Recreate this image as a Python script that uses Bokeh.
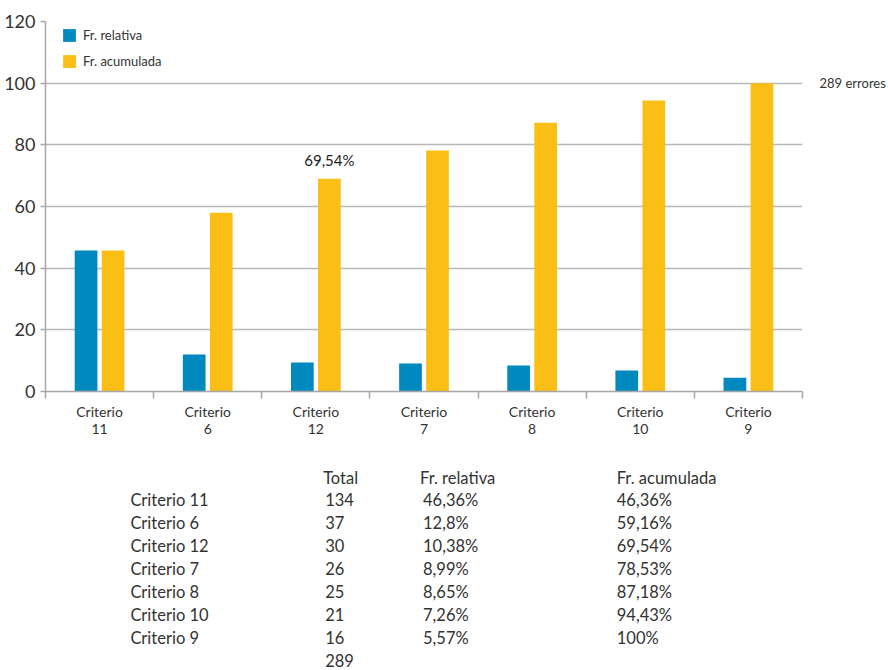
from bokeh.plotting import figure
from bokeh.models import (Range1d, FixedTicker, CustomJSTickFormatter, Label,
                          LinearAxis, ColumnDataSource)
from bokeh.layouts import column
from bokeh.embed import file_html
from bokeh.resources import INLINE
from bokeh.core.properties import value

# ---------------- data ----------------
categories = ["Criterio 11", "Criterio 6", "Criterio 12", "Criterio 7",
              "Criterio 8", "Criterio 10", "Criterio 9"]
axis_labels = ["Criterio\n11", "Criterio\n6", "Criterio\n12", "Criterio\n7",
               "Criterio\n8", "Criterio\n10", "Criterio\n9"]
rel_bars = [45.7, 12.0, 9.4, 9.1, 8.4, 6.8, 4.5]       # Fr. relativa (as drawn)
acum_bars = [45.7, 58.0, 69.0, 78.2, 87.2, 94.4, 100.0]  # Fr. acumulada (as drawn)
totals = ["134", "37", "30", "26", "25", "21", "16"]
total_sum = "289"
total_note = "289 errores"
rel_text = ["46,36%", "12,8%", "10,38%", "8,99%", "8,65%", "7,26%", "5,57%"]
acum_text = ["46,36%", "59,16%", "69,54%", "78,53%", "87,18%", "94,43%", "100%"]
table_headers = ["Total", "Fr. relativa", "Fr. acumulada"]
y_ticks = [0, 20, 40, 60, 80, 100, 120]
series_names = ["Fr. relativa", "Fr. acumulada"]

BLUE = "#0089bf"
YELLOW = "#fbbe14"
TXT = "#333333"
AXC = "#a6a6a6"
FONT = "Lato"

n = len(categories)
centers = [i + 0.5 for i in range(n)]
off = 0.125
width = 0.21

src = ColumnDataSource(dict(
    xb=[c - off for c in centers],
    xy=[c + off for c in centers],
    rel=rel_bars,
    acum=acum_bars,
))

LEFT, RIGHT = 45, 85

# ---------------- chart ----------------
p = figure(width=888, height=445, x_range=Range1d(0, n), y_range=Range1d(0, 120),
           output_backend="svg", toolbar_location=None,
           min_border_left=LEFT, min_border_right=RIGHT, min_border_top=21,
           min_border_bottom=54)
p.outline_line_color = None
p.background_fill_color = "white"
p.border_fill_color = "white"

p.vbar(x="xb", top="rel", width=width, bottom=0, source=src, color=BLUE,
       line_color=None, legend_label=series_names[0])
p.vbar(x="xy", top="acum", width=width, bottom=0, source=src, color=YELLOW,
       line_color=None, legend_label=series_names[1])

p.xgrid.visible = False
p.ygrid.ticker = FixedTicker(ticks=y_ticks)
p.ygrid.grid_line_color = "#b8b8b8"
p.ygrid.grid_line_width = 1.5

ya = p.yaxis[0]
ya.ticker = FixedTicker(ticks=y_ticks)
ya.major_tick_out = 5
ya.major_tick_in = 0
ya.minor_tick_out = 0
ya.minor_tick_in = 0
ya.axis_line_color = AXC
ya.axis_line_width = 1.5
ya.major_tick_line_color = AXC
ya.major_tick_line_width = 1.5
ya.major_label_text_font = FONT
ya.major_label_text_font_size = "18px"
ya.major_label_text_color = TXT
ya.major_label_standoff = 5

xa = p.xaxis[0]
xa.ticker = FixedTicker(ticks=centers, minor_ticks=list(range(n + 1)))
xa.formatter = CustomJSTickFormatter(args=dict(labels=axis_labels),
                                     code="return labels[Math.floor(tick)];")
xa.major_tick_out = 0
xa.major_tick_in = 0
xa.minor_tick_out = 7
xa.minor_tick_in = 0
xa.minor_tick_line_color = AXC
xa.minor_tick_line_width = 1.5
xa.axis_line_color = AXC
xa.axis_line_width = 1.5
xa.major_label_text_font = FONT
xa.major_label_text_font_size = "14px"
xa.major_label_text_color = TXT
xa.major_label_text_line_height = 1.0
xa.major_label_standoff = 4

# right-side note at the 100 level
ra = LinearAxis(ticker=FixedTicker(ticks=[100]),
                formatter=CustomJSTickFormatter(args=dict(lbl=total_note),
                                                code="return lbl;"))
ra.axis_line_color = None
ra.major_tick_line_color = None
ra.minor_tick_line_color = None
ra.major_tick_out = 0
ra.major_tick_in = 0
ra.minor_tick_out = 0
ra.minor_tick_in = 0
ra.major_label_standoff = 17
ra.major_label_text_font = FONT
ra.major_label_text_font_size = "13px"
ra.major_label_text_color = TXT
p.add_layout(ra, "right")

lg = p.legend[0]
lg.location = (16, 320)
lg.border_line_color = None
lg.background_fill_alpha = 0
lg.padding = 4
lg.margin = 0
lg.glyph_width = 16
lg.glyph_height = 16
lg.label_standoff = 6
lg.label_height = 20
lg.spacing = 6
lg.label_text_font = FONT
lg.label_text_font_size = "13px"
lg.label_text_color = TXT

p.add_layout(Label(x=centers[2] + off, y=acum_bars[2], y_offset=10,
                   text=acum_text[2], text_font=FONT, text_font_size="15px",
                   text_color="#222222", text_align="center",
                   text_baseline="bottom"))

# ---------------- table ----------------
t = figure(width=888, height=225, x_range=Range1d(LEFT, 888 - RIGHT),
           y_range=Range1d(225, 0),
           output_backend="svg", toolbar_location=None,
           x_axis_type=None, y_axis_type=None,
           min_border_left=LEFT, min_border_right=RIGHT, min_border_top=0,
           min_border_bottom=0)
t.outline_line_color = None
t.grid.visible = False

row_y = [54 + 23 * i for i in range(n)]
col_x = [130, 325, 423, 617]
hdr_x = [323, 420, 617]
kw = dict(text_font=value(FONT), text_font_size="16.5px", text_color=TXT,
          text_baseline="middle", text_align="left")

t.text(x=hdr_x, y=[32] * 3, text=table_headers, **kw)
t.text(x=[col_x[0]] * n, y=row_y, text=categories, **kw)
t.text(x=[col_x[1]] * n, y=row_y, text=totals, **kw)
t.text(x=[col_x[2]] * n, y=row_y, text=rel_text, **kw)
t.text(x=[col_x[3]] * n, y=row_y, text=acum_text, **kw)
t.text(x=[col_x[1]], y=[54 + 23 * n], text=[total_sum], **kw)

layout = column(p, t, spacing=0)
open("out.html", "w").write(file_html(layout, INLINE))
